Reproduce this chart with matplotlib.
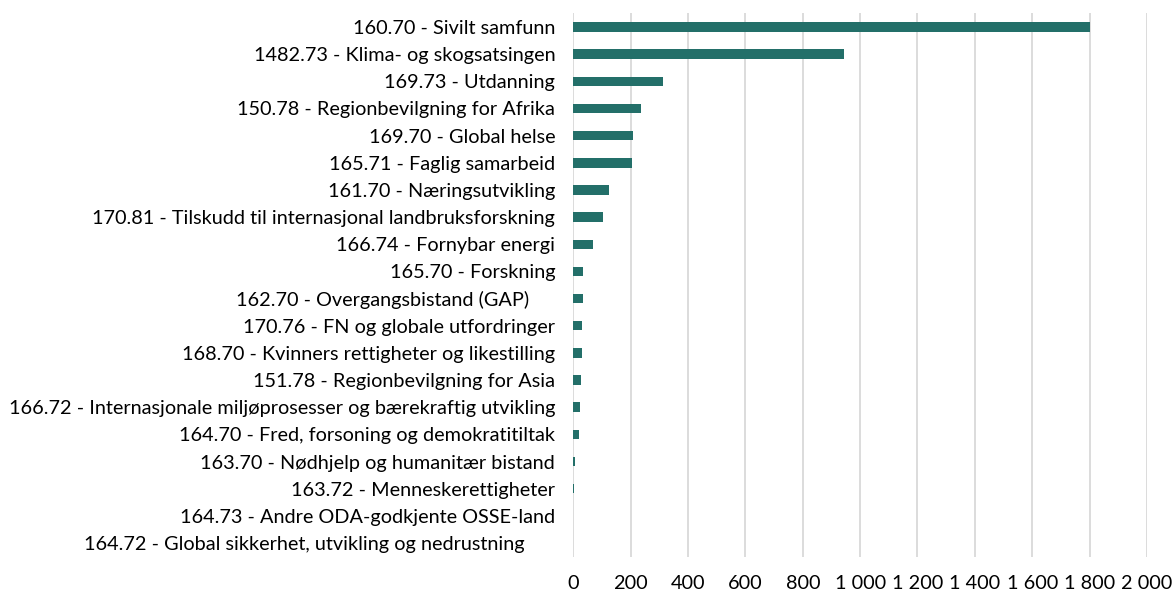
import numpy as np
import matplotlib
matplotlib.use("Agg")
import matplotlib.pyplot as plt

# -------------------------------------------------------------
# Data (lest av fra figuren)
categories = [
    "160.70 - Sivilt samfunn",
    "1482.73 - Klima- og skogsatsingen",
    "169.73 - Utdanning",
    "150.78 - Regionbevilgning for Afrika",
    "169.70 - Global helse",
    "165.71 - Faglig samarbeid",
    "161.70 - Næringsutvikling",
    "170.81 - Tilskudd til internasjonal landbruksforskning",
    "166.74 - Fornybar energi",
    "165.70 - Forskning",
    "162.70 - Overgangsbistand (GAP)     ",
    "170.76 - FN og globale utfordringer",
    "168.70 - Kvinners rettigheter og likestilling",
    "151.78 - Regionbevilgning for Asia",
    "166.72 - Internasjonale miljøprosesser og bærekraftig utvikling",
    "164.70 - Fred, forsoning og demokratitiltak",
    "163.70 - Nødhjelp og humanitær bistand",
    "163.72 - Menneskerettigheter",
    "164.73 - Andre ODA-godkjente OSSE-land",
    "164.72 - Global sikkerhet, utvikling og nedrustning      ",
]
values = [1800, 945, 313, 237, 207, 204, 126, 105, 70, 35,
          33, 31, 30, 26, 24, 20, 7, 2, 0.4, 0.3]
xticks = np.arange(0, 2001, 200)
xtick_labels = ["0", "200", "400", "600", "800", "1 000", "1 200",
                "1 400", "1 600", "1 800", "2 000"]

# -------------------------------------------------------------
# Plot
plt.rcParams["font.family"] = ["Lato", "DejaVu Sans"]
plt.rcParams["font.size"] = 14.3

fig = plt.figure(figsize=(11.76, 5.96), dpi=100)
ax = fig.add_axes([0.4875, 0.0661, 0.4878, 0.9114])

y = np.arange(len(categories))
ax.barh(y, values, height=0.35, color="#236f69", zorder=3)

ax.set_xlim(0, 2000)
ax.set_ylim(len(categories) - 0.5, -0.5)
ax.set_yticks(y)
ax.set_yticklabels(categories, color="#000000")
ax.set_xticks(xticks)
ax.set_xticklabels(xtick_labels, color="#000000")

ax.grid(True, axis="x", color="#d9d9d9", linewidth=1.3, zorder=0)
for s in ax.spines.values():
    s.set_visible(False)
ax.tick_params(axis="y", length=0, pad=13)
ax.tick_params(axis="x", length=0, pad=13)

fig.savefig("out.png", dpi=100)
plt.close()
